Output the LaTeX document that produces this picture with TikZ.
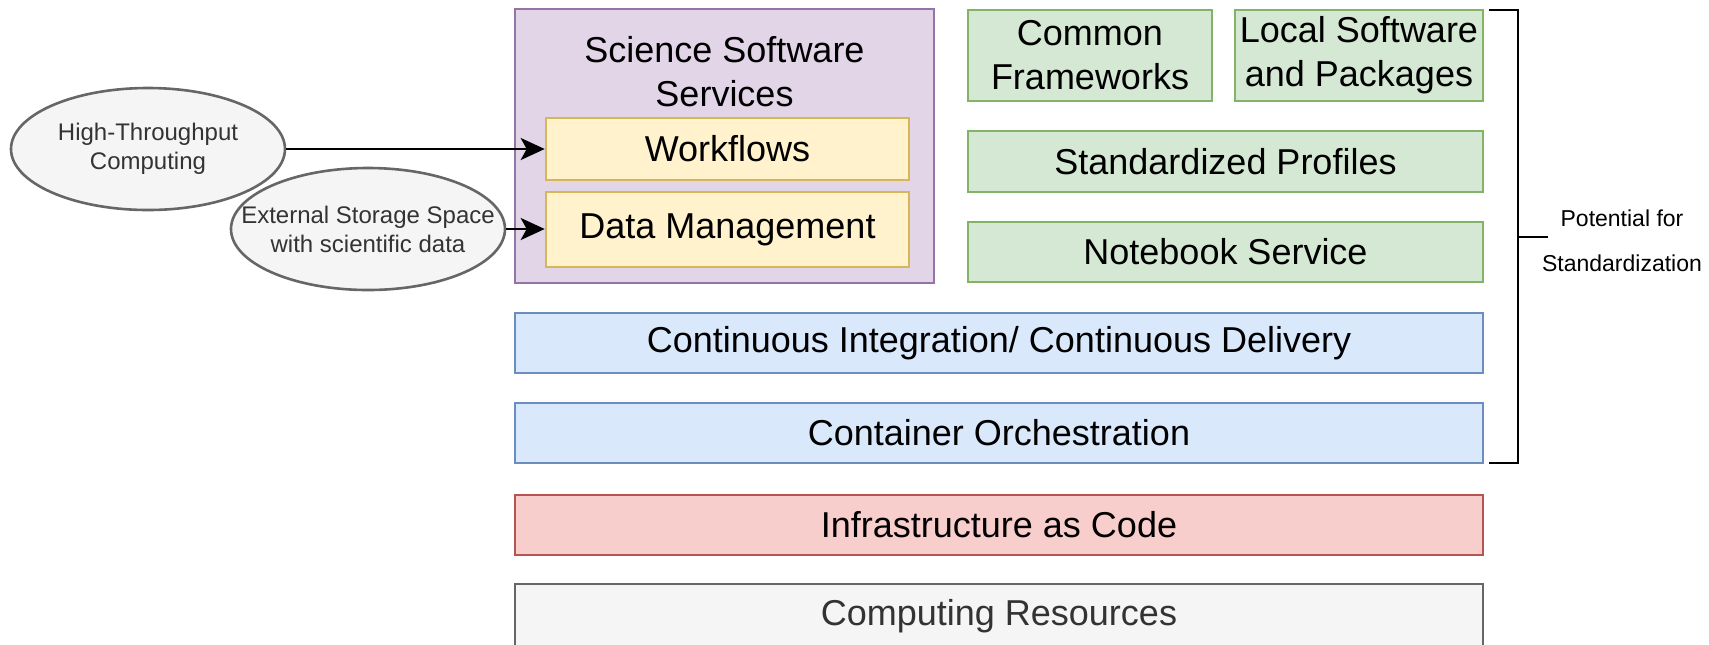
\documentclass[tikz,border=0pt]{standalone}
\usepackage{fontspec}
\setmainfont{Liberation Sans}
\usetikzlibrary{arrows.meta, shapes.geometric}

\definecolor{purpleF}{HTML}{E1D5E7}
\definecolor{purpleD}{HTML}{9673A6}
\definecolor{yellowF}{HTML}{FFF2CC}
\definecolor{yellowD}{HTML}{D6B656}
\definecolor{greenF}{HTML}{D5E8D4}
\definecolor{greenD}{HTML}{82B366}
\definecolor{blueF}{HTML}{DAE8FC}
\definecolor{blueD}{HTML}{6C8EBF}
\definecolor{redF}{HTML}{F8CECC}
\definecolor{redD}{HTML}{B85450}
\definecolor{grayF}{HTML}{F5F5F5}
\definecolor{grayD}{HTML}{666666}
\definecolor{grayT}{HTML}{333333}

\tikzset{
  layer/.style={draw, line width=1.3pt, inner sep=0pt, align=center,
    font=\fontsize{18}{22}\selectfont},
  purplebox/.style={layer, fill=purpleF, draw=purpleD},
  yellowbox/.style={layer, fill=yellowF, draw=yellowD},
  greenbox/.style={layer, fill=greenF, draw=greenD},
  bluebox/.style={layer, fill=blueF, draw=blueD},
  redbox/.style={layer, fill=redF, draw=redD},
  graybox/.style={layer, fill=grayF, draw=grayD, text=grayT},
  source/.style={ellipse, draw=grayD, fill=grayF, line width=1.3pt,
    inner xsep=-18pt, inner ysep=0pt,
    minimum width=137pt, minimum height=61pt, align=center, text=grayT,
    font=\fontsize{12}{14.5}\selectfont},
  feed/.style={-{Stealth[length=12pt, width=11pt, inset=3pt]}, line width=1.3pt}
}

\begin{document}
\begin{tikzpicture}[x=0.5pt, y=-0.5pt]
  \useasboundingbox (0,0) rectangle (1709,644);

  % science software services
  \node[purplebox, minimum width=209.5pt, minimum height=137pt] (sss) at (724.5,146) {};
  \node[align=center, font=\fontsize{18}{22}\selectfont] (ssst) at (724.5,72) {Science Software\\Services};
  \node[yellowbox, minimum width=181.5pt, minimum height=31pt] (wf) at (727.5,149) {Workflows};
  \node[yellowbox, minimum width=181.5pt, minimum height=37.5pt] (dm) at (727.5,229.5) {Data Management};

  % green layer
  \node[greenbox, minimum width=122pt, minimum height=45.5pt] (cf) at (1090,55.5) {Common\\Frameworks};
  \node[greenbox, minimum width=124pt, minimum height=45.5pt] (ls) at (1359,55.5) {Local Software\\and Packages};
  \node[greenbox, minimum width=257.5pt, minimum height=30.5pt] (sp) at (1225.5,161.5) {Standardized Profiles};
  \node[greenbox, minimum width=257.5pt, minimum height=30pt] (nb) at (1225.5,252) {Notebook Service};

  % full-width layers
  \node[bluebox, minimum width=484pt, minimum height=30pt] (ci) at (999,343) {Continuous Integration/ Continuous Delivery};
  \node[bluebox, minimum width=484pt, minimum height=30pt] (co) at (999,433) {Container Orchestration};
  \node[redbox, minimum width=484pt, minimum height=30pt] (iac) at (999,525) {Infrastructure as Code};
  \node[graybox, minimum width=484pt, minimum height=40pt, text depth=11.8pt] (cr) at (999,624) {Computing Resources};

  % inputs
  \node[source] (htc) at (148,149) {High-Throughput\\Computing};
  \node[source] (ext) at (368,229) {External Storage Space\\with scientific data};
  \draw[feed] (htc) -- (wf);
  \draw[feed] (ext.east) -- (ext.east -| dm.west);

  % bracket
  \coordinate (brtop) at (1489,10);
  \coordinate (brbot) at (1489,463);
  \coordinate (brmid) at (1518,237);
  \coordinate (brtick) at (1548,237);
  \draw[line width=1.3pt] (brtop) -| (brmid) |- (brbot);
  \draw[line width=1.3pt] (brmid) -- (brtick);
  \node[align=center, font=\fontsize{11.5}{22.5}\selectfont] (pot) at (1622,240.5) {Potential for\\Standardization};
\end{tikzpicture}
\end{document}
